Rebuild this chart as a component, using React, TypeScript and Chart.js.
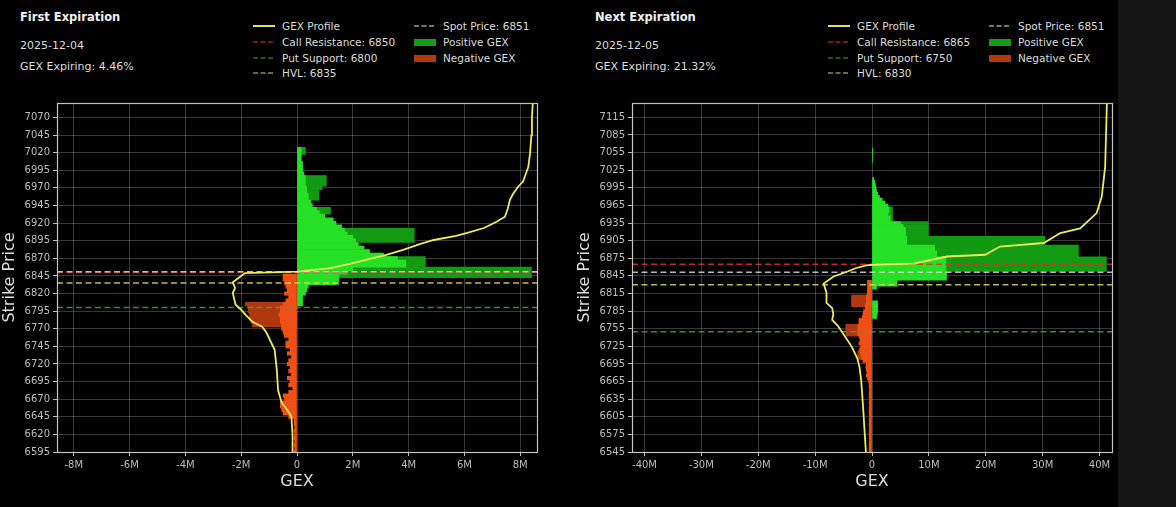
import React, { useEffect, useRef } from 'react';
import { Chart, registerables } from 'chart.js';

Chart.register(...registerables);

const FONT = '"DejaVu Sans", Verdana, sans-serif';

// ---------- Panel 1 : First Expiration ----------
const P1_TITLE = 'First Expiration';
const P1_DATE = '2025-12-04';
const P1_EXPIRING = 'GEX Expiring: 4.46%';
const P1_LEVELS = { call: 6850, put: 6800, hvl: 6835, spot: 6851 };
const P1_X_TICKS = [-8, -6, -4, -2, 0, 2, 4, 6, 8];
const P1_Y_TICKS = [6595, 6620, 6645, 6670, 6695, 6720, 6745, 6770, 6795, 6820, 6845, 6870, 6895, 6920, 6945, 6970, 6995, 7020, 7045, 7070];
const P1_X_RANGE = [-8.6, 8.6];
const P1_Y_RANGE = [6595, 7090.5];

// [strike, GEX in millions]
const P1_POS_BRIGHT: [number, number][] = [
  [7025, 0.15], [7020, 0.15], [7015, 0.15], [7010, 0.15], [7005, 0.2], [7000, 0.2], [6995, 0.2], [6990, 0.25],
  [6985, 0.3], [6980, 0.3], [6975, 0.3], [6970, 0.35], [6965, 0.35], [6960, 0.4], [6955, 0.4], [6950, 0.5],
  [6945, 0.55], [6940, 0.7], [6935, 0.8], [6930, 1.0], [6925, 1.3], [6920, 1.4], [6915, 1.6], [6910, 1.7],
  [6905, 1.8], [6900, 2.0], [6895, 2.1], [6890, 2.2], [6885, 2.4], [6880, 2.6], [6875, 3.1], [6870, 3.6],
  [6865, 3.9], [6860, 3.9], [6855, 2.0], [6850, 1.8], [6845, 1.5], [6840, 1.5], [6835, 1.4], [6830, 0.4],
  [6825, 0.35], [6820, 0.3], [6815, 0.2], [6810, 0.2], [6805, 0.2],
];
const P1_POS_DARK: [number, number][] = [
  [7025, 0.3], [7020, 0.3], [6985, 1.05], [6980, 1.05], [6975, 1.05], [6970, 0.9], [6965, 0.78], [6960, 0.78],
  [6955, 0.78], [6940, 1.2], [6935, 1.2], [6910, 4.2], [6905, 4.2], [6900, 4.2], [6895, 4.2], [6870, 4.6],
  [6865, 4.6], [6860, 4.6], [6855, 8.4], [6850, 8.4], [6845, 8.4], [6835, 1.5],
];
const P1_NEG_BRIGHT: [number, number][] = [
  [6845, -0.5], [6840, -0.5], [6835, -0.45], [6830, -0.4], [6825, -0.35], [6820, -0.45], [6815, -0.3], [6810, -0.4],
  [6805, -0.5], [6800, -0.6], [6795, -0.6], [6790, -0.65], [6785, -0.6], [6780, -0.6], [6775, -0.55], [6770, -0.55],
  [6765, -0.5], [6760, -0.45], [6755, -0.3], [6750, -0.4], [6745, -0.4], [6740, -0.25], [6735, -0.35], [6730, -0.2],
  [6725, -0.3], [6720, -0.35], [6715, -0.25], [6710, -0.3], [6705, -0.2], [6700, -0.35], [6695, -0.25], [6690, -0.3],
  [6685, -0.15], [6680, -0.3], [6675, -0.5], [6670, -0.45], [6665, -0.6], [6660, -0.6], [6655, -0.55], [6650, -0.5],
  [6645, -0.3], [6640, -0.1], [6635, -0.1], [6630, -0.08], [6625, -0.1], [6620, -0.08], [6615, -0.1], [6610, -0.08],
  [6605, -0.1], [6600, -0.08], [6595, -0.1],
];
const P1_NEG_DARK: [number, number][] = [
  [6805, -1.85], [6800, -1.75], [6795, -1.75], [6790, -1.7], [6785, -1.7], [6780, -1.65], [6775, -1.6],
];
const P1_PROFILE: [number, number][] = [
  [6595, -0.15], [6620, -0.16], [6645, -0.2], [6655, -0.35], [6665, -0.55], [6683, -0.68], [6710, -0.72], [6740, -0.8],
  [6754, -0.97], [6765, -1.1], [6773, -1.25], [6780, -1.6], [6790, -1.85], [6797, -2.0], [6804, -2.2], [6812, -2.25],
  [6821, -2.3], [6828, -2.22], [6836, -2.3], [6842, -2.1], [6849, -1.86], [6851, 0], [6856, 1.2], [6862, 1.9],
  [6868, 2.5], [6875, 3.2], [6882, 3.8], [6890, 4.4], [6896, 4.9], [6902, 5.7], [6906, 6.1], [6913, 6.7],
  [6922, 7.15], [6929, 7.45], [6940, 7.55], [6953, 7.63], [6962, 7.75], [6972, 7.93], [6979, 8.1], [6990, 8.2],
  [7000, 8.29], [7019, 8.35], [7045, 8.4], [7071, 8.42], [7091, 8.45],
];

// ---------- Panel 2 : Next Expiration ----------
const P2_TITLE = 'Next Expiration';
const P2_DATE = '2025-12-05';
const P2_EXPIRING = 'GEX Expiring: 21.32%';
const P2_LEVELS = { call: 6865, put: 6750, hvl: 6830, spot: 6851 };
const P2_X_TICKS = [-40, -30, -20, -10, 0, 10, 20, 30, 40];
const P2_Y_TICKS = [6545, 6575, 6605, 6635, 6665, 6695, 6725, 6755, 6785, 6815, 6845, 6875, 6905, 6935, 6965, 6995, 7025, 7055, 7085, 7115];
const P2_X_RANGE = [-42.2, 42.2];
const P2_Y_RANGE = [6545, 7139.5];

const P2_POS_BRIGHT: [number, number][] = [
  [7060, 0.15], [7055, 0.15], [7050, 0.1], [7045, 0.1], [7040, 0.1], [7010, 0.3], [7005, 0.5], [7000, 0.6],
  [6995, 0.7], [6990, 0.8], [6985, 1.0], [6980, 1.3], [6975, 1.8], [6970, 2.3], [6965, 2.8], [6960, 3.0],
  [6955, 3.0], [6950, 2.8], [6945, 3.2], [6940, 3.2], [6935, 5.0], [6930, 5.5], [6925, 5.9], [6920, 5.9],
  [6915, 5.9], [6910, 6.1], [6905, 6.1], [6900, 6.1], [6895, 11.0], [6890, 11.0], [6885, 11.4], [6880, 11.4],
  [6875, 13.0], [6870, 13.0], [6865, 13.0], [6860, 13.0], [6855, 13.0], [6850, 13.1], [6845, 13.1], [6840, 13.1],
  [6835, 4.4], [6830, 4.4], [6825, 0.8], [6800, 1.0], [6795, 1.0], [6790, 1.0], [6785, 1.0], [6780, 0.9], [6775, 0.8],
];
const P2_POS_DARK: [number, number][] = [
  [6960, 3.6], [6955, 3.6], [6950, 3.6], [6945, 3.6], [6940, 3.6], [6935, 9.9], [6930, 9.9], [6925, 9.9],
  [6920, 9.9], [6915, 9.9], [6910, 30.4], [6905, 30.4], [6900, 30.4], [6895, 36.3], [6890, 36.3], [6885, 36.3],
  [6880, 36.3], [6875, 41.2], [6870, 41.2], [6865, 41.2], [6860, 41.2], [6855, 41.2],
];
const P2_NEG_BRIGHT: [number, number][] = [
  [6835, -0.8], [6830, -0.8], [6825, -0.8], [6820, -0.8], [6815, -0.8], [6810, -1.0], [6805, -1.0], [6800, -1.0],
  [6795, -1.2], [6790, -1.2], [6785, -1.5], [6780, -1.6], [6775, -1.7], [6770, -2.3], [6765, -2.3], [6760, -2.5],
  [6755, -2.5], [6750, -2.5], [6745, -2.5], [6740, -2.2], [6735, -2.1], [6730, -2.3], [6725, -2.0], [6720, -2.2],
  [6715, -2.0], [6710, -2.0], [6705, -1.8], [6700, -1.6], [6695, -1.0], [6690, -1.1], [6685, -1.0], [6680, -0.9],
  [6675, -1.0], [6670, -0.8], [6665, -0.6], [6660, -0.5], [6655, -0.5], [6650, -0.45], [6645, -0.5], [6640, -0.5],
  [6635, -0.45], [6630, -0.5], [6625, -0.45], [6620, -0.5], [6615, -0.5], [6610, -0.5], [6605, -0.45], [6600, -0.5],
  [6595, -0.5], [6590, -0.5], [6585, -0.45], [6580, -0.5], [6575, -0.5], [6570, -0.5], [6565, -0.45], [6560, -0.5],
  [6555, -0.5], [6550, -0.5], [6545, -0.5],
];
const P2_NEG_DARK: [number, number][] = [
  [6810, -3.6], [6805, -3.6], [6800, -3.6], [6795, -3.6], [6760, -4.6], [6755, -4.6], [6750, -4.6], [6745, -4.6],
  [6715, -2.5], [6710, -2.5], [6705, -2.5],
];
const P2_PROFILE: [number, number][] = [
  [6545, -1.07], [6580, -1.3], [6611, -1.5], [6640, -1.7], [6667, -1.9], [6690, -2.2], [6705, -2.6], [6725, -3.6],
  [6747, -5.1], [6760, -6.0], [6770, -7.0], [6780, -6.8], [6790, -7.0], [6799, -8.0], [6816, -8.0], [6832, -8.5],
  [6844, -6.75], [6852, -4.4], [6858, -2.9], [6863, -1.0], [6864, 0.1], [6866, 7.3], [6878, 13.2], [6881, 19.9],
  [6895, 22.5], [6901, 30.2], [6918, 33.1], [6926, 36.6], [6952, 39.5], [6980, 40.4], [7031, 41.0], [7139, 41.3],
];

// ---------- styles ----------
const COLORS = {
  posBright: '#26e026',
  posDark: '#129a12',
  negBright: '#f05016',
  negDark: '#b0380e',
  profile: '#ecec58',
  call: 'rgba(225,45,45,0.85)',
  put: 'rgba(70,160,70,0.85)',
  hvl: 'rgba(220,220,90,0.85)',
  spot: 'rgba(215,215,215,0.85)',
  grid: 'rgba(255,255,255,0.22)',
  tick: '#bdbdbd',
  frame: '#c4c4c4',
  text: '#dcdcdc',
};
const LEGEND_COLORS = {
  profile: '#e2e25a',
  call: '#a51f1f',
  put: '#2d6e2d',
  hvl: '#8e8e3a',
  spot: '#9c9c9c',
  pos: '#149c14',
  neg: '#b23a10',
};

type PanelCfg = {
  title: string; date: string; expiring: string;
  levels: { call: number; put: number; hvl: number; spot: number };
  xTicks: number[]; yTicks: number[]; xRange: number[]; yRange: number[];
  posBright: [number, number][]; posDark: [number, number][];
  negBright: [number, number][]; negDark: [number, number][];
  profile: [number, number][];
};

const PANELS: PanelCfg[] = [
  { title: P1_TITLE, date: P1_DATE, expiring: P1_EXPIRING, levels: P1_LEVELS, xTicks: P1_X_TICKS, yTicks: P1_Y_TICKS,
    xRange: P1_X_RANGE, yRange: P1_Y_RANGE, posBright: P1_POS_BRIGHT, posDark: P1_POS_DARK, negBright: P1_NEG_BRIGHT,
    negDark: P1_NEG_DARK, profile: P1_PROFILE },
  { title: P2_TITLE, date: P2_DATE, expiring: P2_EXPIRING, levels: P2_LEVELS, xTicks: P2_X_TICKS, yTicks: P2_Y_TICKS,
    xRange: P2_X_RANGE, yRange: P2_Y_RANGE, posBright: P2_POS_BRIGHT, posDark: P2_POS_DARK, negBright: P2_NEG_BRIGHT,
    negDark: P2_NEG_DARK, profile: P2_PROFILE },
];

const toPts = (arr: [number, number][]) => arr.map(([s, v]) => ({ x: v, y: s }));

const framePlugin = {
  id: 'frame',
  afterDraw(chart: any) {
    const { ctx, chartArea: a } = chart;
    ctx.save();
    ctx.strokeStyle = COLORS.frame;
    ctx.lineWidth = 1.2;
    ctx.strokeRect(Math.round(a.left) + 0.5, Math.round(a.top) + 0.5, Math.round(a.right - a.left), Math.round(a.bottom - a.top));
    ctx.restore();
  },
};

function Panel({ cfg, left }: { cfg: PanelCfg; left: number }) {
  const ref = useRef<HTMLCanvasElement>(null);
  useEffect(() => {
    const [x0, x1] = cfg.xRange;
    const hline = (y: number, color: string, order: number) => ({
      type: 'line' as const,
      data: [{ x: x0, y }, { x: x1, y }],
      borderColor: color,
      borderWidth: 1.5,
      borderDash: [6, 3.5],
      pointRadius: 0,
      fill: false,
      order,
    });
    const bar = (arr: [number, number][], color: string, order: number) => ({
      type: 'bar' as const,
      data: toPts(arr),
      backgroundColor: color,
      borderWidth: 0,
      grouped: false,
      barPercentage: 1,
      categoryPercentage: 1,
      order,
    });
    const chart = new Chart(ref.current!, {
      type: 'bar',
      data: {
        datasets: [
          bar(cfg.posDark, COLORS.posDark, 6),
          bar(cfg.negDark, COLORS.negDark, 6),
          bar(cfg.posBright, COLORS.posBright, 5),
          bar(cfg.negBright, COLORS.negBright, 5),
          hline(cfg.levels.put, COLORS.put, 2),
          hline(cfg.levels.hvl, COLORS.hvl, 2),
          hline(cfg.levels.call, COLORS.call, 2),
          hline(cfg.levels.spot, COLORS.spot, 1),
          {
            type: 'line' as const,
            data: toPts(cfg.profile),
            borderColor: COLORS.profile,
            borderWidth: 1.8,
            pointRadius: 0,
            fill: false,
            tension: 0,
            order: 0,
          },
        ] as any,
      },
      options: {
        indexAxis: 'y',
        responsive: false,
        animation: false,
        events: [],
        layout: { padding: { top: 13, right: 8, left: 0, bottom: 0 } },
        plugins: { legend: { display: false }, tooltip: { enabled: false } },
        scales: {
          x: {
            type: 'linear',
            min: cfg.xRange[0],
            max: cfg.xRange[1],
            offset: false,
            afterBuildTicks: (s: any) => { s.ticks = cfg.xTicks.map((v) => ({ value: v })); },
            afterFit: (s: any) => { s.height = 55; },
            ticks: {
              autoSkip: false,
              maxRotation: 0,
              padding: 3,
              color: COLORS.tick,
              font: { family: FONT, size: 10 },
              callback: (v: any) => (Number(v) === 0 ? '0' : `${v}M`),
            },
            grid: { color: COLORS.grid, tickColor: COLORS.tick, tickLength: 4, drawTicks: true, offset: false },
            border: { display: false },
            title: { display: true, text: 'GEX', color: COLORS.text, font: { family: FONT, size: 16 }, padding: { top: 0, bottom: 16 } },
          },
          y: {
            type: 'linear',
            min: cfg.yRange[0],
            max: cfg.yRange[1],
            offset: false,
            afterBuildTicks: (s: any) => { s.ticks = cfg.yTicks.map((v) => ({ value: v })); },
            afterFit: (s: any) => { s.width = 57; },
            ticks: {
              autoSkip: false,
              padding: 3,
              color: COLORS.tick,
              font: { family: FONT, size: 10 },
              callback: (v: any) => String(v),
            },
            grid: { color: COLORS.grid, tickColor: COLORS.tick, tickLength: 4, drawTicks: true, offset: false },
            border: { display: false },
            title: { display: true, text: 'Strike Price', color: COLORS.text, font: { family: FONT, size: 16 }, padding: { top: 0, bottom: 0 } },
          },
        },
      } as any,
      plugins: [framePlugin],
    });
    return () => chart.destroy();
  }, [cfg]);

  const txt = (x: number, y: number, s: string, size: number, bold = false, color = COLORS.text) => (
    <div
      key={s + x + y}
      style={{
        position: 'absolute', left: left + x, top: y - 8, height: 16, lineHeight: '16px',
        fontFamily: FONT, fontSize: size, fontWeight: bold ? 'bold' : 'normal', color, whiteSpace: 'nowrap',
      }}
    >
      {s}
    </div>
  );
  const lineSample = (x: number, y: number, color: string, dashed: boolean) => (
    <svg key={'ls' + x + y} width={22} height={10} style={{ position: 'absolute', left: left + x, top: y - 5 }}>
      <line x1={0} y1={5} x2={22} y2={5} stroke={color} strokeWidth={dashed ? 1.5 : 2} strokeDasharray={dashed ? '5,2.5' : undefined} />
    </svg>
  );
  const patch = (x: number, y: number, color: string) => (
    <div key={'p' + x + y} style={{ position: 'absolute', left: left + x, top: y - 3.5, width: 22, height: 7, background: color }} />
  );

  return (
    <>
      <canvas ref={ref} width={545} height={417} style={{ position: 'absolute', left, top: 90 }} />
      {txt(20, 17, cfg.title, 11.5, true, '#f2f2f2')}
      {txt(20, 46, cfg.date, 11)}
      {txt(20, 67, cfg.expiring, 11)}
      {lineSample(253, 26, LEGEND_COLORS.profile, false)}
      {txt(282, 26, 'GEX Profile', 10.5)}
      {lineSample(253, 42, LEGEND_COLORS.call, true)}
      {txt(282, 42, `Call Resistance: ${cfg.levels.call}`, 10.5)}
      {lineSample(253, 58, LEGEND_COLORS.put, true)}
      {txt(282, 58, `Put Support: ${cfg.levels.put}`, 10.5)}
      {lineSample(253, 73, LEGEND_COLORS.hvl, true)}
      {txt(282, 73, `HVL: ${cfg.levels.hvl}`, 10.5)}
      {lineSample(414, 26, LEGEND_COLORS.spot, true)}
      {txt(443, 26, `Spot Price: ${cfg.levels.spot}`, 10.5)}
      {patch(414, 42, LEGEND_COLORS.pos)}
      {txt(443, 42, 'Positive GEX', 10.5)}
      {patch(414, 58, LEGEND_COLORS.neg)}
      {txt(443, 58, 'Negative GEX', 10.5)}
    </>
  );
}

export default function App() {
  return (
    <div style={{ position: 'fixed', left: 0, top: 0, width: 1176, height: 507, background: '#000', overflow: 'hidden' }}>
      <div style={{ position: 'absolute', left: 1118, top: 0, width: 58, height: 507, background: '#151515' }} />
      <Panel cfg={PANELS[0]} left={0} />
      <Panel cfg={PANELS[1]} left={575} />
    </div>
  );
}
